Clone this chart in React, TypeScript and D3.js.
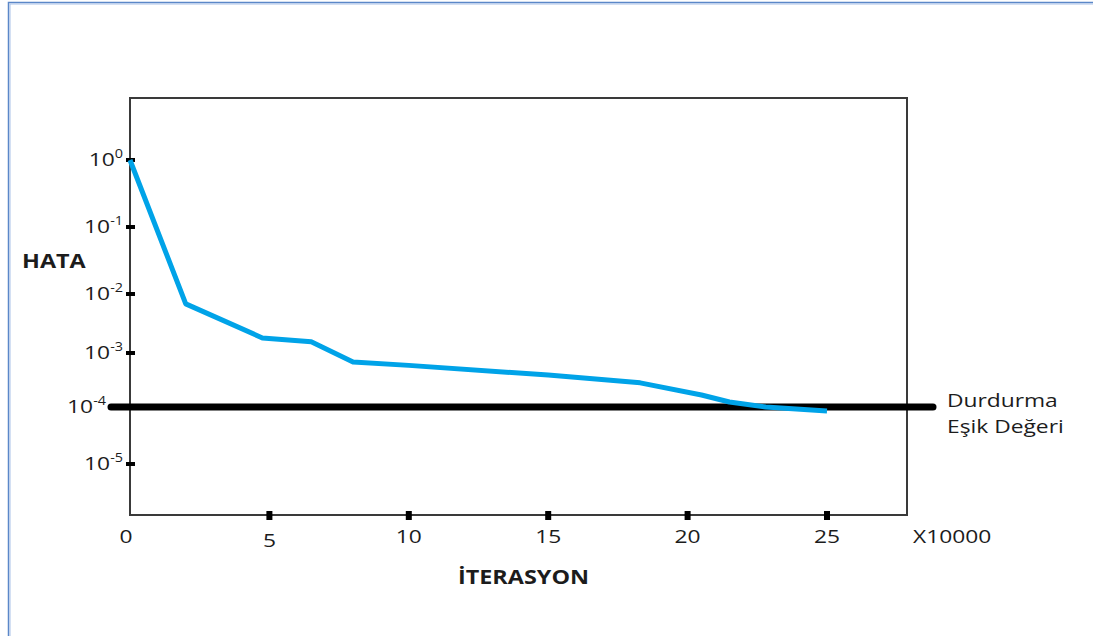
import React from "react";
import * as d3 from "d3";

// iterations are in units of 10000
const iterations = [0, 2, 4.75, 6.5, 8, 10, 15, 18.3, 20.5, 21.5, 22.8, 25];
const errors = [1, 0.0068, 0.0018, 0.00155, 0.00068, 0.00059, 0.00039, 0.00028, 0.000167, 0.000124, 0.0001, 0.000085];

const xTicks = [0, 5, 10, 15, 20, 25];
const yTickExps = [0, -1, -2, -3, -4, -5];
const threshold = 1e-4;

const W = 1093;
const H = 636;
const left = 130;
const right = 907;
const top = 98;
const bottom = 515;
const font = "'Open Sans', sans-serif";
const ink = "#1c1c1c";
const sx = 1.2;

function Stretch({ x, y, anchor = "start", size = 19, bold = false, children }: any) {
  return (
    <g transform={`translate(${x},${y}) scale(${sx},1)`}>
      <text
        textAnchor={anchor}
        fontFamily={font}
        fontSize={size}
        fontWeight={bold ? 700 : 400}
        fill={ink}
      >
        {children}
      </text>
    </g>
  );
}

export default function App() {
  const x = d3.scaleLinear().domain([0, 25]).range([left, 827]);
  // hand-drawn decades are not evenly spaced, so use a piecewise log scale
  const y = d3
    .scaleLog()
    .domain(yTickExps.map((e) => Math.pow(10, e)))
    .range([160, 227, 294, 353, 407, 464]);

  const line = d3
    .line<number>()
    .x((d, i) => x(iterations[i]))
    .y((d) => y(d));

  const thrStart = 108;
  const thrEnd = 936;
  const thrY = y(threshold);

  return (
    <svg
      width={W}
      height={H}
      style={{ position: "absolute", left: 0, top: 0, background: "#fff" }}
    >
      {/* outer frame */}
      <rect x={8.5} y={2.5} width={1200} height={1000} fill="none" stroke="#5b87c8" strokeWidth={1.5} />
      <rect x={10} y={4} width={1200} height={1000} fill="none" stroke="#a9c1e8" strokeWidth={1} />

      {/* plot box */}
      <rect
        x={left}
        y={top}
        width={right - left}
        height={bottom - top}
        fill="none"
        stroke="#3a3a3a"
        strokeWidth={2}
      />

      {/* y ticks */}
      {yTickExps.map((e) => {
        const ty = y(Math.pow(10, e));
        const isThr = Math.pow(10, e) === threshold;
        return (
          <g key={e}>
            <rect x={left - 4} y={ty - 2} width={9} height={4} fill="#000" />
            <g transform={`translate(${isThr ? thrStart - 2 : 123},${ty + 6}) scale(${sx},1)`}>
              <text textAnchor="end" fontFamily={font} fontSize={19} fill={ink}>
                <tspan>10</tspan>
                <tspan dy={-8} fontSize={12}>
                  {e === 0 ? "0" : "-" + Math.abs(e)}
                </tspan>
              </text>
            </g>
          </g>
        );
      })}

      {/* x ticks */}
      {xTicks.map((t) => (
        <g key={t}>
          {t > 0 && <rect x={x(t) - 3} y={bottom - 4} width={6} height={9} fill="#000" />}
          <Stretch x={t === 0 ? x(t) - 4 : x(t)} y={t === 5 ? 547 : 543} anchor="middle">
            {t}
          </Stretch>
        </g>
      ))}
      <Stretch x={913} y={543}>X10000</Stretch>

      {/* threshold */}
      <line
        x1={thrStart + 3}
        x2={thrEnd - 3}
        y1={thrY}
        y2={thrY}
        stroke="#000"
        strokeWidth={7}
        strokeLinecap="round"
      />

      {/* error curve */}
      <path
        d={line(errors) || ""}
        fill="none"
        stroke="#00a3e8"
        strokeWidth={5}
        strokeLinejoin="round"
      />

      <Stretch x={947} y={407}>Durdurma</Stretch>
      <Stretch x={947} y={433}>Eşik Değeri</Stretch>

      <Stretch x={22} y={268} size={19.5} bold>HATA</Stretch>
      <Stretch x={458} y={584} size={19.5} bold>İTERASYON</Stretch>
    </svg>
  );
}
